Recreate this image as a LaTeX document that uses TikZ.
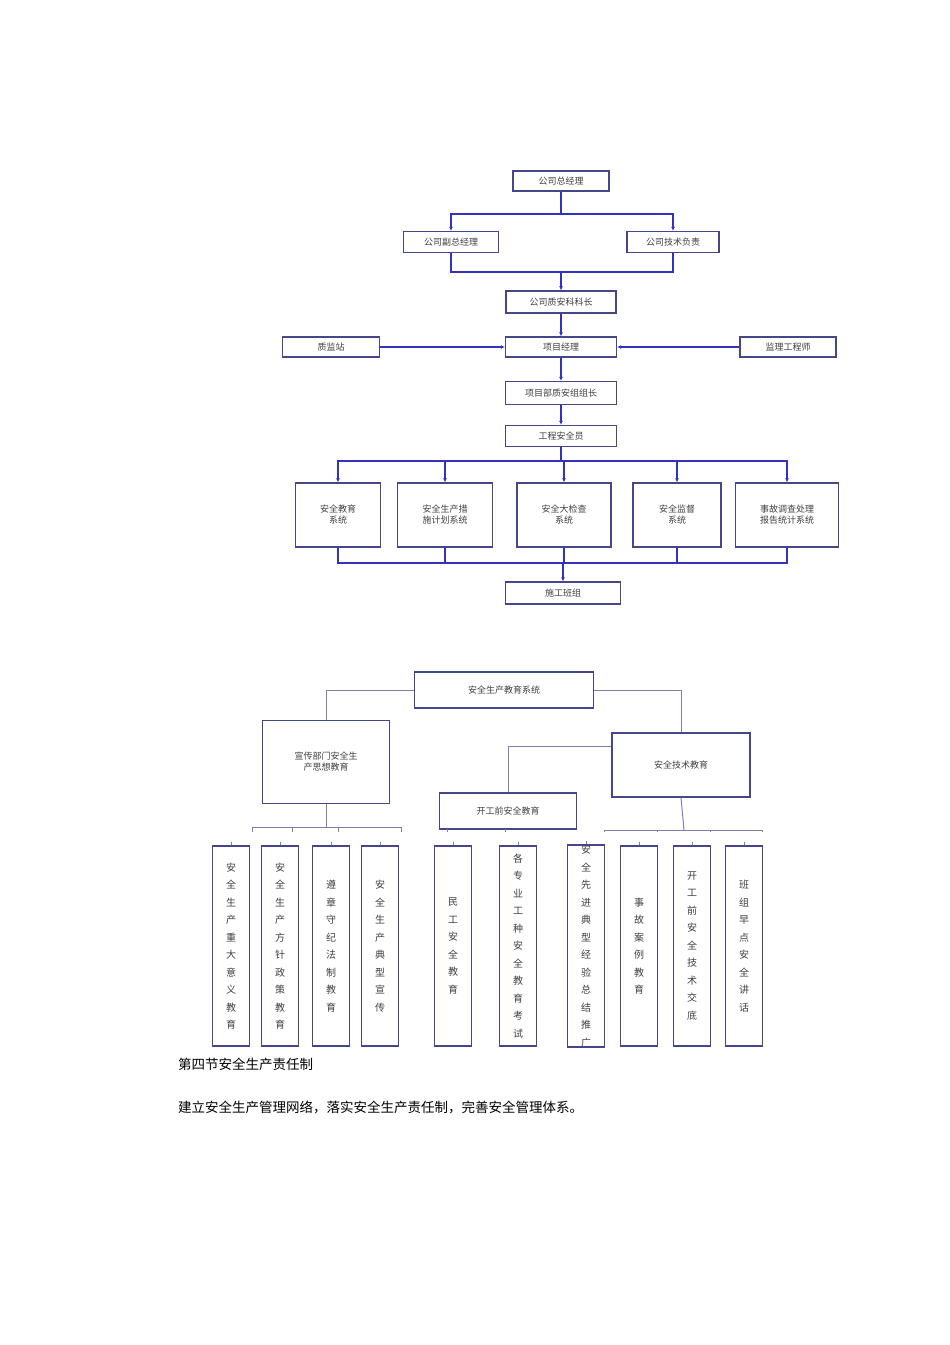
\documentclass[tikz,border=0pt]{standalone}
\usepackage{fontspec}
\setmainfont{Noto Sans CJK SC}
\usetikzlibrary{arrows.meta}
\definecolor{bx}{RGB}{70,70,140}
\definecolor{ln}{RGB}{50,50,190}
\tikzset{
 box/.style={draw=bx,line width=1.3pt,fill=white,inner sep=0pt,font=\fontsize{9}{11}\selectfont,text=black!75,align=center},
 vbox/.style={box,minimum width=37pt,minimum height=200pt,font=\fontsize{10}{17.5}\selectfont},
 con/.style={draw=ln,line width=1.2pt},
 arr/.style={con,-{Latex[length=4pt,width=4pt]}},
 gl/.style={draw=bx!70,line width=1pt}
}
\begin{document}
\begin{tikzpicture}[x=1pt,y=-1pt]
\useasboundingbox (0,0) rectangle (950,1345);
% top chart
\node[box,minimum width=96pt,minimum height=20pt] (gm) at (561,181) {公司总经理};
\node[box,minimum width=95pt,minimum height=21pt] (vgm) at (451,242) {公司副总经理};
\node[box,minimum width=92pt,minimum height=21pt] (tech) at (673,242) {公司技术负责};
\node[box,minimum width=110pt,minimum height=22pt] (zak) at (561,302) {公司质安科科长};
\node[box,minimum width=97pt,minimum height=20pt] (zjz) at (331,347) {质监站};
\node[box,minimum width=111pt,minimum height=20pt] (pm) at (561,347) {项目经理};
\node[box,minimum width=96pt,minimum height=20pt] (jl) at (788,347) {监理工程师};
\node[box,minimum width=111pt,minimum height=23pt] (zz) at (561,393) {项目部质安组组长};
\node[box,minimum width=111pt,minimum height=21pt] (aqy) at (561,436) {工程安全员};
\node[box,minimum width=85pt,minimum height=64pt] (s1) at (338,515) {安全教育\\系统};
\node[box,minimum width=95pt,minimum height=64pt] (s2) at (445,515) {安全生产措\\施计划系统};
\node[box,minimum width=94pt,minimum height=64pt] (s3) at (564,515) {安全大检查\\系统};
\node[box,minimum width=88pt,minimum height=64pt] (s4) at (677,515) {安全监督\\系统};
\node[box,minimum width=103pt,minimum height=64pt] (s5) at (787,515) {事故调查处理\\报告统计系统};
\node[box,minimum width=115pt,minimum height=22pt] (bz) at (563,593) {施工班组};
\coordinate (sp) at (561,214);
\coordinate (mg) at (561,272);
\draw[con] (gm.south) -- (sp);
\draw[arr] (sp) -| (vgm.north);
\draw[arr] (sp) -| (tech.north);
\draw[con] (vgm.south) |- (mg) -| (tech.south);
\draw[arr] (mg) -- (zak.north);
\draw[arr] (zak) -- (pm);
\draw[arr] (zjz) -- (pm);
\draw[arr] (jl) -- (pm);
\draw[arr] (pm) -- (zz);
\draw[arr] (zz) -- (aqy);
\coordinate (br) at (561,461);
\draw[con] (aqy.south) -- (br);
\foreach \s in {s1,s2,s3,s4,s5}{\draw[arr] (br) -| (\s.north);}
\coordinate (mb) at (563,563);
\draw[con] (s1.south) |- (mb) -| (s5.south);
\foreach \s in {s2,s3,s4}{\draw[con] (\s.south) -- (\s.south|-mb);}
\draw[arr] (mb) -- (bz.north);
% second chart
\node[box,minimum width=179pt,minimum height=36pt] (edu) at (504,690) {安全生产教育系统};
\node[box,minimum width=127pt,minimum height=83pt] (xc) at (326,762) {宣传部门安全生\\产思想教育};
\node[box,minimum width=138pt,minimum height=64pt] (js) at (681,765) {安全技术教育};
\node[box,minimum width=137pt,minimum height=36pt] (kg) at (508,811) {开工前安全教育};
\draw[gl] (edu.west) -| (xc.north);
\draw[gl] (edu.east) -| (js.north);
\draw[gl] (js.west|-0,746) -| (kg.north);
\draw[gl] (xc.south) -- (326,827);
\draw[gl] (252,827) -- (401,827);
\foreach \x in {252,292,338,401}{\draw[gl] (\x,827) -- (\x,832);}
\foreach \x in {447,505}{\draw[gl] (\x,829) -- (\x,832);}
\draw[gl] (js.south) -- (684,830);
\draw[gl] (604,830) -- (762,830);
\foreach \x in {604,657,710,762}{\draw[gl] (\x,830) -- (\x,832);}
\node[vbox] (v1) at (231,946) {安\\全\\生\\产\\重\\大\\意\\义\\教\\育};
\node[vbox] (v2) at (280,946) {安\\全\\生\\产\\方\\针\\政\\策\\教\\育};
\node[vbox] (v3) at (331,946) {遵\\章\\守\\纪\\法\\制\\教\\育};
\node[vbox] (v4) at (380,946) {安\\全\\生\\产\\典\\型\\宣\\传};
\node[vbox] (v5) at (453,946) {民\\工\\安\\全\\教\\育};
\node[vbox] (v6) at (518,946) {各\\专\\业\\工\\种\\安\\全\\教\\育\\考\\试};
\node[vbox] (v7) at (586,946) {安\\全\\先\\进\\典\\型\\经\\验\\总\\结\\推\\广};
\node[vbox] (v8) at (639,946) {事\\故\\案\\例\\教\\育};
\node[vbox] (v9) at (692,946) {开\\工\\前\\安\\全\\技\\术\\交\\底};
\node[vbox] (v10) at (744,946) {班\\组\\早\\点\\安\\全\\讲\\话};
\foreach \v in {v1,v2,v3,v4,v5,v6,v7,v8,v9,v10}{\draw[gl] (\v.north) -- ++(0,-3);}
% text
\node[anchor=west,inner sep=0pt,font=\fontsize{13.5}{16}\selectfont] (t1) at (178,1064) {第四节安全生产责任制};
\node[anchor=west,inner sep=0pt,font=\fontsize{13.5}{16}\selectfont] (t2) at (178,1107) {建立安全生产管理网络，落实安全生产责任制，完善安全管理体系。};
\end{tikzpicture}
\end{document}
